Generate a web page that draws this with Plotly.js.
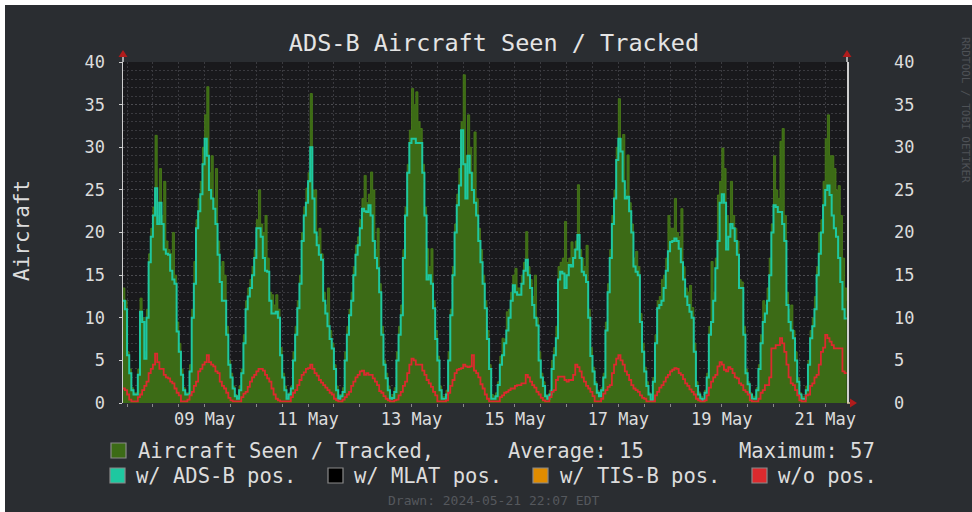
<!DOCTYPE html>
<html><head><meta charset="utf-8">
<script src="https://cdn.plot.ly/plotly-3.0.1.min.js"></script>
<style>
html,body{margin:0;padding:0;background:#ffffff;overflow:hidden;}
#frame{position:absolute;left:5px;top:5px;width:967px;height:507px;background:#2a2d31;}
#chart{position:absolute;left:0;top:0;width:972px;height:512px;}
</style></head><body>
<div id="frame"></div><div id="chart"></div>
<script>
// ---- data (hourly samples starting 2024-05-07 22:00) ----
const startTime = Date.UTC(2024, 4, 7, 22, 0);
const rangeStart = '2024-05-07 22:07';
const rangeEnd = '2024-05-21 22:07';

const totalSeen = [
 13.5,12,6,4,1.8,1.2,1.2,4,12.3,10,6,11,17.5,20.5,23,31.4,22,27.5,22,26,19,18,17.5,20,15,9.5,
 7,4,1.8,1.2,1.2,4.5,11,16.6,21.5,24,26,30,33.8,37.1,27,29,24,27.5,19,16,16.6,15,9,5,
 3.5,2,1,0.8,2,4,8,12,13.5,14.5,16,18,21.5,25,21,20,22,17,13,12.7,11.5,12.7,11,6.5,
 3.5,2,0.8,1.2,2,6,9,12,15,20,23,25.2,27,36.3,25,25,19.5,20.5,17.5,13,11.5,13.5,8.5,7,
 4.5,2,0.8,1,1.8,6,9,11,13,16,18.5,19.5,21.5,24,26.7,23.5,24.5,27.1,25,18,20.5,14,9,5,
 3.5,2,0.8,1,1.8,6,9,11.5,18,23,28,32,36.9,35,36.5,33,32.2,28,23,18.1,16,18.1,12,8.5,
 5.5,2,0.8,0.8,1.5,6,11,16,21,24.5,27.5,33,38.5,29,33.8,30,27,31.8,24,20.5,18,15,12,8.5,
 4.5,1,0.8,1.2,2.5,5.5,7.6,7.5,10.7,11,13,15,15.8,13.5,13.5,15,16.5,20.1,16,14.5,12.5,15,10,6,
 3.5,2.5,1,0.8,1.5,5,6.5,9,16,16.5,17,21.3,16.5,17,18.9,18,19,25.6,18,17,16,18.5,11,6.5,
 4.2,2.5,1.5,1,1.8,3.5,9.5,14,18,22,25,30,35.7,31,31.5,25,29.1,23.5,21,17,17.8,16,10.5,7,
 4.2,2.5,1.2,0.5,3,8,12,12.5,14.5,15,17,22,20.5,20.5,24,20,19.5,22.8,16,13.5,13,13.8,11.2,7,
 2.5,1.3,0.8,0.5,1.5,3.5,9,16.6,13,17,24.4,26,29.9,27.5,22,21,26,22,20.5,19,14.5,14.2,9,4,
 2.5,1.2,0.8,0.8,1.8,4.5,8,12,11.5,13.5,17,21,29,25,24,30.7,32.2,22,13,11,11.5,8.5,6,3,
 1.2,0.8,0.8,2,5,8.5,10,12.5,16,20,21.5,26,31,33.8,29,29,27.5,25,25.5,22,17,13.5,12
];
const adsbPos = [
 12,11,5.6,3.5,1.5,1,1,3.3,10.7,9.5,5.2,10,16.5,19.5,22,25.2,21,23.5,21,18,17.5,17.4,15.5,14.5,14,8.4,
 6,3.3,1.5,1,1,3.7,10,14,20.5,22.5,24.5,28,31,29,25,24,22.8,21,17.4,14.2,12,12,8,4.5,
 3,1.7,0.8,0.5,1.5,3.5,7,11,12.5,13.5,15,17,20.5,20.5,19.5,17,15.5,15.4,12,10.5,10.5,10.7,10,5.6,
 3,1.5,0.5,1,1.7,5,8,11.1,14,19,22,23.5,26,30,24,20,18.5,17.4,16.8,12,10.5,9,7.5,6.4,
 4,1.5,0.5,0.8,1.3,5,8,10.3,12,15,17.4,18.5,20.5,22.8,22.5,22.4,23.2,22,19,17,15.8,13,8,4.5,
 2.9,1.5,0.5,0.6,1.3,5,8,10.3,17,22,27,30.5,31,31,30.5,30.5,30.5,27,22,14.5,15,14,11.1,7.5,
 5,1.5,0.5,0.5,1,5,10.3,15,20,23.2,25.5,32,28,24,29,27,25,23.5,22,19,16.5,14,11.1,7.5,
 4,0.5,0.5,0.8,2.1,4.5,5.6,7,8.5,10,12,13.8,13,12.7,12.7,14,15.5,16.8,15,13.5,11.5,10,9.1,5,
 3,2,0.8,0.5,1,4,5.6,7.6,14.5,15.4,15.2,13.5,15,16.2,16,17,18,19.7,17,15.4,15,14.2,10,5.5,
 3.7,2.2,1.2,0.8,1.5,3,8.5,13,17,21,24,28.5,31,29.5,26,24,24.2,22.5,20,16,15.4,15,9.5,6,
 3.7,2,1,0.3,2.5,7,11.1,11.5,12,13.5,15.5,17.8,18.9,19,19.3,19,18.1,16.5,14.5,12.5,11.5,10.7,10,6,
 2,1,0.5,0.3,1.2,3,8,9.5,12,15.8,19,23.5,24.5,23.5,18,19.5,21,20.5,19,17.4,13.5,13.5,8,3.5,
 2.2,1,0.5,0.5,1.5,4,7,9.5,10.5,12,15,20,23.2,23,22.4,22.4,21,19,11.5,9.5,8.5,7.6,5,2.5,
 1,0.5,0.5,1.5,4.5,7.6,9,11,15,17.5,20,23.2,25,25.5,24.4,22,20.5,19.5,17,14.2,11,9.9,9.9
];
const noPos = [
 1.7,1.5,1,0.4,0.2,0.2,0.2,0.7,1,1.5,2,2.5,3.5,4,4.5,5.8,4.8,4,4,3.3,3,2.9,2.5,2.3,1.7,1.2,
 0.9,0.2,0.2,0.2,0.4,0.9,1.3,2,2.5,3.7,4,4.5,4.8,5.6,4.8,4.5,4.3,3.7,3.5,2.5,2,1.7,1.2,0.6,
 0.3,0.2,0.2,0.2,0.2,0.7,1.1,1.3,1.9,2.5,3,3.3,3.7,4,4,3.8,3.3,2.9,2.5,1.7,1,0.5,0.3,0.2,
 0.2,0.2,0.2,0.2,0.7,1.2,1.5,2.1,2.7,3.3,3.6,4,4.1,4.5,4,3.5,3.2,2.7,2.4,2.1,1.8,1.5,1.2,1,
 0.5,0.3,0.2,0.2,0.4,0.7,1,1.3,2,2.5,3,3.3,3.7,3.8,3.3,3.5,3.3,3.3,2.9,2.5,2.1,1.4,1.2,0.8,
 0.5,0.3,0.2,0.2,0.3,0.4,0.9,1.3,2,2.5,3.5,4.5,5.2,5,4.5,4.5,4.5,3.8,3.3,2.7,2.3,1.9,1.3,0.9,
 0.2,0.2,0.2,0.2,0.3,1.2,2,2.7,3.5,3.9,4,4.1,4.5,4.3,4.2,4.3,5.6,3.8,3.5,3,2.2,1.7,1,0.5,
 0.2,0.2,0.2,0.2,0.2,0.7,0.9,1.2,1.3,1.5,1.7,1.7,2,2.1,2.1,2.3,2.3,3.3,3,2.5,2.1,1.8,1.3,1,
 0.6,0.3,0.2,0.2,0.7,1.3,1.5,2.7,3.1,3.1,3.1,2.7,2.5,2.7,2.7,3.3,4.5,4.2,3.7,3,2.5,2,1.7,1.3,
 0.8,0.2,0.2,0.2,0.5,1.1,1.5,1.9,2.1,3.5,4.5,5.2,5.6,5,4.5,3.7,3.3,2.7,2.1,1.7,1.5,1.3,0.9,0.6,
 0.5,0.2,0.2,0.2,0.2,0.9,1.3,1.8,2.1,2.5,3,3.3,3.7,3.9,4.1,4,3.5,3.3,2.8,2.3,2,1.6,1.3,1,
 0.5,0.3,0.2,0.2,0.3,0.9,1.8,2.5,3,3.3,4.3,4.8,4.5,3.9,3.7,4.2,4,3.5,3,2.9,2.3,2.1,1.5,1.3,
 1,0.3,0.2,0.2,0.2,0.5,1.2,1.5,2.1,2.1,3,6.4,6.4,6.8,6.8,7.6,7,6,4.5,3,2.3,2.1,1.5,0.9,
 0.3,0.2,0.2,0.9,1,2,2.3,3,3.3,4.5,6,6.5,8,7.6,7.2,6.8,6.4,6.4,6.4,6.4,3.7,3.5,3.5
];
const tickDates = ['2024-05-09 12:00','2024-05-11 12:00','2024-05-13 12:00','2024-05-15 12:00','2024-05-17 12:00','2024-05-19 12:00','2024-05-21 12:00'];
const tickLabels = ['09 May','11 May','13 May','15 May','17 May','19 May','21 May'];
const legendRow1 = ['Aircraft Seen / Tracked,', 'Average: 15', 'Maximum: 57'];
const legendRow2 = ['w/ ADS-B pos.', 'w/ MLAT pos.', 'w/ TIS-B pos.', 'w/o pos.'];

// ---- styling ----
const C = {
  plot:'#19191c', green:'#3c6b16', greenLine:'#4a7d18', teal:'#1ec8a0', red:'#dc2a2e',
  black:'#000000', orange:'#e08c00', text:'#dcdcdc', grid:'#3a3a3f', gridMajor:'#4b4b50',
  axis:'#cfcfcf', arrow:'#b01c1c', faint:'#55585d', box:'#8a8a8a'
};
const MONO = 'DejaVu Sans Mono, monospace';
const L=123, R=847, T=62, B=403;
const fx = px => (px - L) / (R - L);
const fy = py => (B - py) / (B - T);

function fmt(ms){ return new Date(ms).toISOString().slice(0,16).replace('T',' '); }
const times = totalSeen.map((_, i) => fmt(startTime + i*3600000));

const traces = [
  {x:times, y:totalSeen, type:'scatter', mode:'lines', line:{shape:'hv', width:0.8, color:C.greenLine},
   fill:'tozeroy', fillcolor:C.green, hoverinfo:'skip'},
  {x:times, y:adsbPos, type:'scatter', mode:'lines', line:{shape:'hv', width:2, color:C.teal}, hoverinfo:'skip'},
  {x:times, y:noPos, type:'scatter', mode:'lines', line:{shape:'hv', width:1.8, color:C.red}, hoverinfo:'skip'},
  {x:times, y:noPos, type:'scatter', mode:'lines', line:{width:0}, yaxis:'y2', hoverinfo:'skip', opacity:0}
];

const shapes = [
  {type:'line', xref:'paper', yref:'paper', x0:0, x1:0, y0:1, y1:fy(56), line:{color:C.axis, width:1.5}},
  {type:'line', xref:'paper', yref:'paper', x0:1, x1:1, y0:1, y1:fy(56), line:{color:C.axis, width:1.5}},
  {type:'line', xref:'paper', yref:'paper', x0:1, x1:fx(851), y0:0, y1:0, line:{color:'#d8c79a', width:1.5}},
  {type:'path', xref:'paper', yref:'paper', xsizemode:'pixel', ysizemode:'pixel', xanchor:0, yanchor:1,
   path:'M -4.5,5 L 4.5,5 L 0,12 Z', fillcolor:C.arrow, line:{width:0}},
  {type:'path', xref:'paper', yref:'paper', xsizemode:'pixel', ysizemode:'pixel', xanchor:1, yanchor:1,
   path:'M -4.5,5 L 4.5,5 L 0,12 Z', fillcolor:C.arrow, line:{width:0}},
  {type:'path', xref:'paper', yref:'paper', xsizemode:'pixel', ysizemode:'pixel', xanchor:1, yanchor:0,
   path:'M 3,4.5 L 3,-4.5 L 10,0 Z', fillcolor:C.arrow, line:{width:0}},
];
function box(x, y, color){
  shapes.push({type:'rect', xref:'paper', yref:'paper', x0:fx(x), x1:fx(x+15), y0:fy(y+15), y1:fy(y),
    fillcolor:color, line:{color:C.box, width:1.2}});
}
box(111, 443, C.green);
box(110, 468, C.teal);
box(328, 468, C.black);
box(533, 468, C.orange);
box(752, 468, C.red);

const annotations = [];
function txt(s, x, y, size, color, extra){
  annotations.push(Object.assign({text:s, xref:'paper', yref:'paper', x:fx(x), y:fy(y), xanchor:'left', yanchor:'middle',
    showarrow:false, font:{family:MONO, size:size, color:color}}, extra||{}));
}
txt(legendRow1[0], 136, 451, 20.5, C.text);
txt(legendRow1[1], 506, 451, 20.5, C.text);
txt(legendRow1[2], 737, 451, 20.5, C.text);
txt(legendRow2[0], 134, 476, 20.5, C.text);
txt(legendRow2[1], 352, 476, 20.5, C.text);
txt(legendRow2[2], 558, 476, 20.5, C.text);
txt(legendRow2[3], 776, 476, 20.5, C.text);
txt('Drawn: 2024-05-21 22:07 EDT', 493, 500, 13, C.faint, {xanchor:'center'});
txt('Aircraft', 22, 231, 21, C.text, {xanchor:'center', textangle:-90});
txt('RRDTOOL / TOBI OETIKER', 966, 110, 11, '#4e5156', {xanchor:'center', textangle:90});

const layout = {
  width:972, height:512,
  margin:{l:L, r:972-R, t:T, b:512-B, pad:0},
  paper_bgcolor:'rgba(0,0,0,0)', plot_bgcolor:C.plot,
  showlegend:false,
  title:{text:'ADS-B Aircraft Seen / Tracked', x:494/972, xanchor:'center', xref:'container',
         y:1-43/512, yanchor:'middle', yref:'container', font:{family:MONO, size:23.5, color:'#e4e4e4'}},
  xaxis:{type:'date', range:[rangeStart, rangeEnd], tickmode:'array', tickvals:tickDates, ticktext:tickLabels,
         showgrid:false, zeroline:false, showline:false, ticks:'', ticklabelstandoff:4,
         tickfont:{family:MONO, size:17, color:C.text},
         minor:{tickmode:'linear', tick0:'2024-05-08 00:00', dtick:43200000, showgrid:true,
                gridcolor:C.grid, griddash:'2px,2px', gridwidth:1, ticks:'outside', ticklen:3, tickcolor:'#8a8a8a'}},
  yaxis:{range:[0,40], tick0:0, dtick:5, showgrid:true, gridcolor:C.gridMajor, griddash:'2px,2px', gridwidth:1,
         zeroline:false, showline:true, linecolor:C.axis, linewidth:1.5, ticks:'outside', ticklen:3, tickcolor:C.axis,
         ticklabelstandoff:10, tickfont:{family:MONO, size:17, color:C.text},
         minor:{dtick:1, showgrid:true, gridcolor:C.grid, griddash:'2px,2px', gridwidth:1}},
  yaxis2:{range:[0,40], tick0:0, dtick:5, overlaying:'y', side:'right', showgrid:false, zeroline:false,
          showline:true, linecolor:C.axis, linewidth:1.5, ticks:'', ticklabelstandoff:42,
          tickfont:{family:MONO, size:17, color:C.text}},
  shapes:shapes, annotations:annotations
};

Plotly.newPlot('chart', traces, layout, {staticPlot:true, displayModeBar:false});
</script>
</body></html>
